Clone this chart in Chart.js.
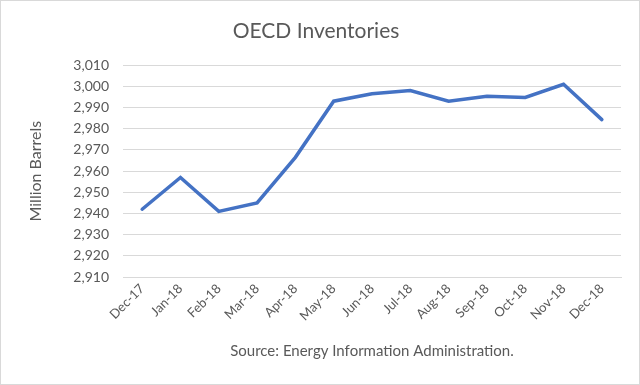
<!DOCTYPE html>
<html>
<head>
<meta charset="utf-8">
<script src="https://cdn.jsdelivr.net/npm/chart.js@4"></script>
<style>
  body { margin: 0; background: #fff; }
  #wrap { width: 640px; height: 385px; box-sizing: border-box; border: 1px solid #d9d9d9; }
</style>
</head>
<body>
<div id="wrap"><canvas id="chart"></canvas></div>
<script>
let months = ['Dec-17', 'Jan-18', 'Feb-18', 'Mar-18', 'Apr-18', 'May-18', 'Jun-18',
  'Jul-18', 'Aug-18', 'Sep-18', 'Oct-18', 'Nov-18', 'Dec-18'];
let inventories = [2942, 2957, 2941, 2945, 2966.5, 2993, 2996.5, 2998, 2993, 2995.3, 2994.8, 3001, 2984.3];

let grey = '#595959';
Chart.defaults.font.family = 'Lato, "Open Sans", sans-serif';
Chart.defaults.color = grey;

let ctx = document.getElementById('chart').getContext('2d');
let lineChart = new Chart(ctx, {
  type: 'line',
  data: {
    labels: months,
    datasets: [{
      label: 'OECD Inventories',
      data: inventories,
      borderColor: '#4472C4',
      borderWidth: 3.5,
      pointRadius: 0,
      tension: 0,
      borderCapStyle: 'round'
    }]
  },
  options: {
    responsive: true,
    maintainAspectRatio: false,
    animation: false,
    layout: { padding: { left: 10, right: 18, top: 8, bottom: 8 } },
    plugins: {
      legend: { display: false },
      tooltip: { enabled: false },
      title: {
        display: true,
        text: 'OECD Inventories',
        color: grey,
        font: { size: 21, weight: 'normal' },
        padding: { top: 10, bottom: 21 }
      }
    },
    scales: {
      x: {
        offset: true,
        grid: { display: false, drawTicks: false },
        border: { color: '#d9d9d9' },
        ticks: { maxRotation: 45, minRotation: 45, padding: 4, font: { size: 13 }, color: grey },
        title: {
          display: true,
          text: 'Source: Energy Information Administration.',
          color: grey,
          font: { size: 15 },
          padding: { top: 0, bottom: 16 }
        },
        afterFit: s => { s.height = 99; }
      },
      y: {
        min: 2910,
        max: 3010,
        grid: { color: '#d9d9d9', lineWidth: 1, drawTicks: false },
        border: { display: false },
        ticks: { stepSize: 10, padding: 14, font: { size: 14 }, color: grey },
        title: {
          display: true,
          text: 'Million Barrels',
          color: grey,
          font: { size: 16 },
          padding: { top: 15, bottom: 0 }
        },
        afterFit: s => { s.width = 112; }
      }
    }
  }
});
</script>
</body>
</html>
